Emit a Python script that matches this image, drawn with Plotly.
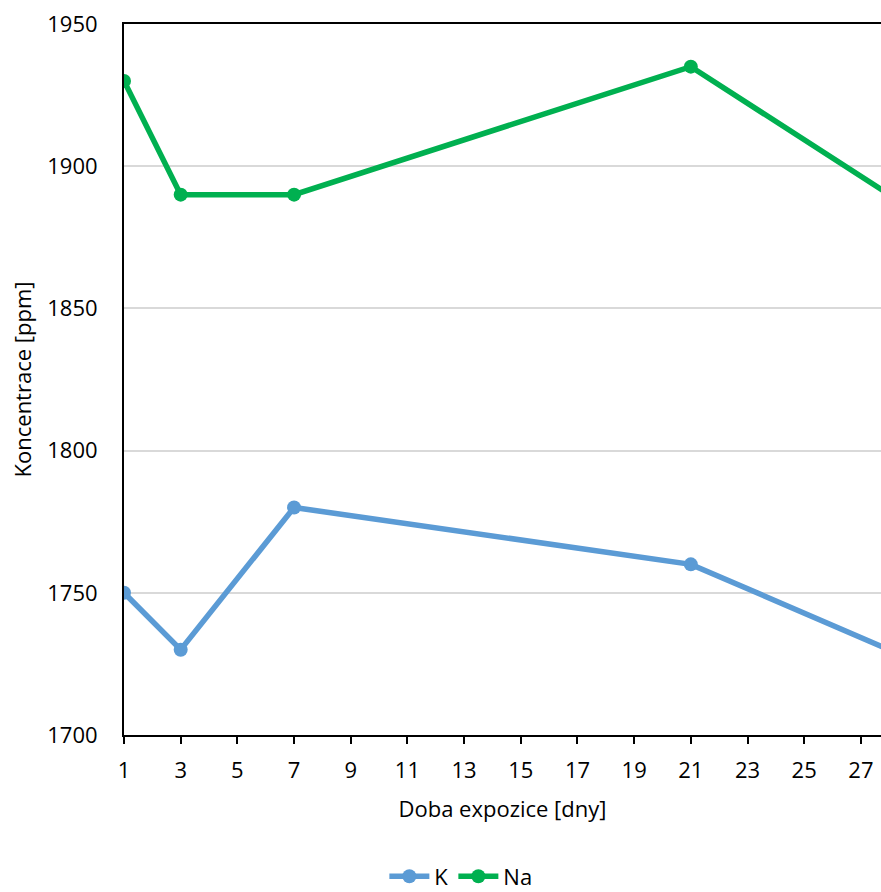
import plotly.graph_objects as go

days = [1, 3, 7, 21, 28]
k_ppm = [1750, 1730, 1780, 1760, 1730]
na_ppm = [1930, 1890, 1890, 1935, 1890]
x_ticks = list(range(1, 28, 2))
y_ticks = [1700, 1750, 1800, 1850, 1900, 1950]

FONT = "Open Sans"
TXT = "#000000"
FS = 22

fig = go.Figure()
fig.add_trace(go.Scatter(
    x=days, y=k_ppm, name="K", mode="lines+markers",
    line=dict(color="#5B9BD5", width=5.5),
    marker=dict(color="#5B9BD5", size=14),
))
fig.add_trace(go.Scatter(
    x=days, y=na_ppm, name="Na", mode="lines+markers",
    line=dict(color="#00B050", width=5.5),
    marker=dict(color="#00B050", size=14),
))

fig.update_layout(
    width=881, height=892,
    margin=dict(l=124, r=0, t=24, b=157, autoexpand=False),
    paper_bgcolor="white", plot_bgcolor="white",
    font=dict(family=FONT, size=FS, color=TXT),
    showlegend=True,
    legend=dict(
        orientation="h", x=0.445, y=-0.199, xanchor="center", yanchor="middle",
        font=dict(family=FONT, size=FS, color=TXT),
        itemwidth=40, tracegroupgap=0,
    ),
    xaxis=dict(
        range=[1, 27.71], tickmode="array", tickvals=x_ticks,
        showgrid=False, zeroline=False, automargin=False,
        showline=True, linecolor="black", linewidth=2, mirror=True,
        ticks="outside", ticklen=7, tickwidth=1.5, tickcolor="black",
        ticklabelstandoff=8,
        tickfont=dict(family=FONT, size=FS, color=TXT),
        title=dict(text="Doba expozice [dny]", font=dict(family=FONT, size=FS, color=TXT), standoff=18),
    ),
    yaxis=dict(
        range=[1700, 1950], tickmode="array", tickvals=y_ticks,
        showgrid=True, gridcolor="#D9D9D9", gridwidth=1.5, zeroline=False, automargin=False,
        showline=True, linecolor="black", linewidth=2,
        ticks="", ticklabelstandoff=20,
        tickfont=dict(family=FONT, size=FS, color=TXT),
        title=dict(text="Koncentrace [ppm]", font=dict(family=FONT, size=FS, color=TXT), standoff=10),
    ),
)

fig.write_html("out.html")
